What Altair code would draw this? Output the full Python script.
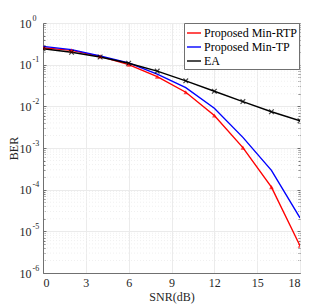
import altair as alt
import pandas as pd

snr = [0, 2, 4, 6, 8, 10, 12, 14, 16, 18]
ber_rtp = [0.255, 0.22, 0.158, 0.1, 0.0515, 0.0218, 0.006, 0.00102, 1.15e-4, 4.5e-6]
ber_tp = [0.275, 0.229, 0.162, 0.11, 0.059, 0.028, 0.009, 0.0018, 2.9e-4, 2.1e-5]
ber_ea = [0.241, 0.198, 0.153, 0.108, 0.07, 0.041, 0.023, 0.013, 0.0074, 0.0045]

series_names = ["Proposed Min-RTP", "Proposed Min-TP", "EA"]
series_colors = ["#ff0000", "#0000ff", "#000000"]

x_ticks = [0, 3, 6, 9, 12, 15, 18]
y_ticks = [1e-6, 1e-5, 1e-4, 1e-3, 1e-2, 1e-1, 1]
y_tick_base = "10"
y_tick_exponents = ["-6", "-5", "-4", "-3", "-2", "-1", "0"]
minor_mult = [2, 3, 4, 5, 6, 7, 8, 9]
minor_ticks = [m * t for t in y_ticks[:-1] for m in minor_mult]

FONT = "Liberation Serif"
AX = "#707070"
TXT = "#262626"

rows = []
for name, vals in zip(series_names, [ber_rtp, ber_tp, ber_ea]):
    for s, b in zip(snr, vals):
        rows.append({"snr": s, "ber": b, "series": name})
df = pd.DataFrame(rows)

color_scale = alt.Scale(domain=series_names, range=series_colors)
xs = alt.Scale(domain=[0, 18], nice=False)


def ys():
    return alt.Scale(type="log", domain=[1e-6, 1], nice=False)


exp_expr = "[" + ",".join("'%s'" % t for t in y_tick_exponents) + "][round(log(datum.value)/LN10)+6]"

x_axis = alt.Axis(values=x_ticks, title="SNR(dB)", grid=True, gridColor="#ebebeb",
                  ticks=False, labelPadding=4, titlePadding=3,
                  domainColor=AX, labelColor=TXT, titleColor=TXT,
                  labelFont=FONT, titleFont=FONT, labelFontSize=12, titleFontSize=12,
                  titleFontWeight="normal")
y_axis = alt.Axis(values=y_ticks, labelExpr="'%s'" % y_tick_base, title="BER", grid=True,
                  gridColor="#ebebeb", ticks=False, labelPadding=12, titleX=-23,
                  domainColor=AX, labelColor=TXT, titleColor=TXT,
                  labelFont=FONT, titleFont=FONT, labelFontSize=12, titleFontSize=12,
                  titleFontWeight="normal", orient="left")

X = alt.X("snr:Q", scale=xs, axis=x_axis)
Y = alt.Y("ber:Q", scale=ys(), axis=y_axis)

minor_grid = alt.Chart(pd.DataFrame({"ber": minor_ticks})).mark_rule(
    color="#f0f0f0", strokeDash=[1, 2], strokeWidth=1
).encode(y=Y)

base = alt.Chart(df)

legend_def = alt.Legend(title=None, orient="right", offset=-117,
                        symbolSize=196, symbolStrokeWidth=1.4, rowPadding=0,
                        labelFont=FONT, labelFontSize=12, labelColor="#000000",
                        labelLimit=0, padding=2, labelOffset=2,
                        strokeColor=AX, fillColor="#ffffff")

lines = base.mark_line(strokeWidth=1.4, clip=True).encode(
    x=X, y=Y,
    color=alt.Color("series:N", scale=color_scale, legend=legend_def),
)

tri = base.transform_filter(alt.datum.series == series_names[0]).mark_point(
    shape="triangle-up", filled=True, size=22, clip=True, color=series_colors[0]
).encode(x=X, y=Y)

xm = base.transform_filter(alt.datum.series == series_names[2]).mark_point(
    shape="M-1,-1L1,1M-1,1L1,-1", filled=False, size=22, strokeWidth=1.2, clip=True,
    color=series_colors[2]
).encode(x=X, y=Y)

inner = alt.layer(minor_grid, lines, tri, xm)

aux_df = pd.DataFrame({"snr": [0], "ber": [100.0]})
exp_axis = alt.Axis(values=y_ticks, labelExpr=exp_expr, title=None, grid=False, ticks=False,
                    domain=False, orient="left", labelAlign="left", labelPadding=11,
                    labelOffset=-5, labelFont=FONT, labelFontSize=8, labelColor=TXT)
exp_layer = alt.Chart(aux_df).mark_point(clip=True).encode(
    x=X, y=alt.Y("ber:Q", scale=ys(), axis=exp_axis))


def tick_layer(orient, values, size):
    ax = alt.Axis(values=values, labels=False, title=None, grid=False, domain=False,
                  ticks=True, tickSize=size, offset=-size, tickColor=AX, tickWidth=1,
                  orient=orient)
    return alt.Chart(aux_df).mark_point(clip=True).encode(
        x=X, y=alt.Y("ber:Q", scale=ys(), axis=ax))


tick_layers = [
    tick_layer("left", minor_ticks, 2),
    tick_layer("right", minor_ticks, 2),
    tick_layer("left", y_ticks, 3),
    tick_layer("right", y_ticks, 3),
]

chart = alt.layer(inner, exp_layer, *tick_layers).resolve_scale(y="independent").properties(
    width=257, height=250,
    background="#ffffff",
    autosize=alt.AutoSizeParams(type="none"),
    padding={"left": 35, "top": 15, "right": 24, "bottom": 31},
).configure_view(stroke=AX, strokeWidth=1)

chart.save("out.html", embed_options={"renderer": "svg", "actions": False})
